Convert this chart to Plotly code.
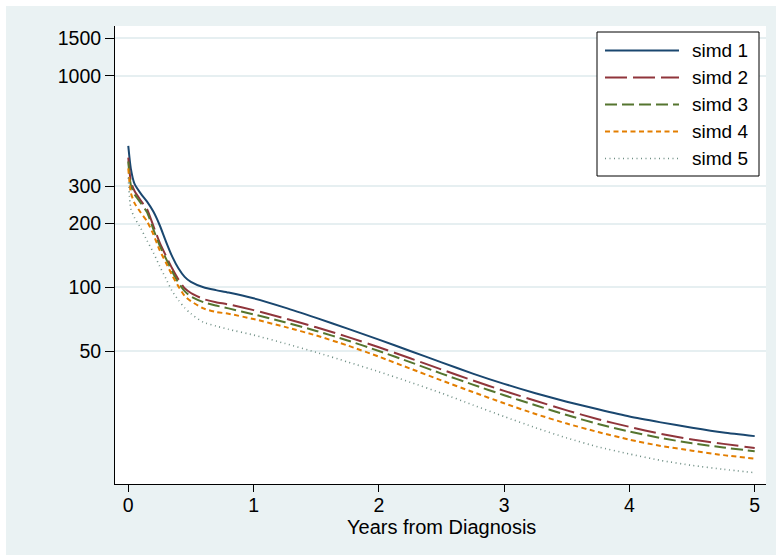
import plotly.graph_objects as go

# Years from diagnosis at which the curves are evaluated
years = [0, 0.02, 0.05, 0.1, 0.15, 0.2, 0.25, 0.3, 0.35, 0.4, 0.45, 0.5, 0.6, 0.7, 0.8,
         1.0, 1.25, 1.5, 1.75, 2.0, 2.25, 2.5, 2.75, 3.0, 3.25, 3.5, 3.75, 4.0, 4.25,
         4.5, 4.75, 5.0]

simd1 = [466, 365, 308, 277, 254, 228, 197, 165, 140, 123, 112, 106, 100, 97, 94.5,
         88.7, 80.2, 71.7, 63.8, 56.6, 50.0, 44.2, 39.1, 34.95, 31.6, 28.8, 26.5, 24.5,
         23.0, 21.7, 20.6, 19.8]
simd2 = [410, 318, 285, 257, 234, 195, 163, 141, 123, 109, 99, 94, 88, 85, 83,
         78.0, 71.3, 64.7, 58.3, 52.1, 46.2, 40.9, 36.3, 32.4, 29.1, 26.2, 23.8, 21.9,
         20.3, 19.1, 18.2, 17.4]
simd3 = [393, 305, 275, 250, 226, 188, 158, 137, 119, 105, 96, 90.5, 85, 82, 79.5,
         74.5, 68.4, 62.2, 56.1, 50.0, 44.3, 39.1, 34.7, 30.9, 27.7, 24.9, 22.6, 20.8,
         19.4, 18.3, 17.5, 16.8]
simd4 = [365, 280, 250, 225, 205, 178, 150, 131, 114, 101, 91, 86, 79.5, 76.5, 75,
         70.8, 65.0, 59.2, 53.1, 47.0, 41.3, 36.3, 32.0, 28.3, 25.2, 22.7, 20.7, 19.05,
         17.8, 16.9, 16.1, 15.5]
simd5 = [330, 236, 213, 190, 166, 146, 126, 110, 96, 87, 80, 75, 68.3, 65.6, 63.3,
         59.5, 54.3, 49.3, 44.4, 39.9, 35.6, 31.6, 27.8, 24.5, 21.7, 19.4, 17.6, 16.3,
         15.2, 14.4, 13.8, 13.3]

series_names = ["simd 1", "simd 2", "simd 3", "simd 4", "simd 5"]
y_ticks = [50, 100, 200, 300, 1000, 1500]
x_ticks = [0, 1, 2, 3, 4, 5]
x_title = "Years from Diagnosis"

colors = ["#1a476f", "#90353b", "#55752f", "#e37e00", "#6e8e84"]
dashes = ["solid", "22px,6px", "12px,5px", "5px,3.5px", "1px,3.5px"]
widths = [2, 2, 2, 2, 1.6]

W, H = 776, 555
L, R, T, B = 115, 10, 26, 71
BG = "#EAF2F3"
FONT = "Liberation Sans, Arial, sans-serif"

fig = go.Figure()
for name, vals, c, d, w in zip(series_names, [simd1, simd2, simd3, simd4, simd5],
                               colors, dashes, widths):
    fig.add_trace(go.Scatter(x=years, y=vals, mode="lines", name=name,
                             line=dict(color=c, dash=d, width=w, shape="spline",
                                       smoothing=0.6),
                             showlegend=False))

pw, ph = W - L - R, H - T - B


def px_x(p):
    return (p - L) / pw


def px_y(p):
    return (H - B - p) / ph


shapes = [
    # white page border around the graph region
    dict(type="rect", xref="paper", yref="paper", x0=px_x(0), x1=px_x(W),
         y0=px_y(6), y1=px_y(0), fillcolor="white", line_width=0, layer="below"),
    dict(type="rect", xref="paper", yref="paper", x0=px_x(0), x1=px_x(6),
         y0=px_y(H), y1=px_y(0), fillcolor="white", line_width=0, layer="below"),
    # legend box
    dict(type="rect", xref="paper", yref="paper", x0=px_x(597), x1=px_x(759),
         y0=px_y(176), y1=px_y(32), fillcolor="white",
         line=dict(color="black", width=1), layer="above"),
]
annotations = [
    dict(xref="paper", yref="paper", x=px_x(441), y=px_y(527), text=x_title,
         showarrow=False, xanchor="center", yanchor="middle",
         font=dict(size=20, color="black", family=FONT)),
]
for i, (name, c, d, w) in enumerate(zip(series_names, colors, dashes, widths)):
    yy = px_y(50.5 + 27 * i)
    shapes.append(dict(type="line", xref="paper", yref="paper", x0=px_x(605),
                       x1=px_x(679), y0=yy, y1=yy,
                       line=dict(color=c, dash=d, width=w), layer="above"))
    annotations.append(dict(xref="paper", yref="paper", x=px_x(690), y=yy,
                            text=name, showarrow=False, xanchor="left",
                            yanchor="middle",
                            font=dict(size=19, color="black", family=FONT)))

fig.update_layout(
    width=W, height=H,
    margin=dict(l=L, r=R, t=T, b=B),
    paper_bgcolor=BG, plot_bgcolor="white",
    font=dict(family=FONT, size=19.5, color="black"),
    shapes=shapes, annotations=annotations,
    showlegend=False,
)
fig.update_xaxes(range=[-0.106, 5.09], tickvals=x_ticks, ticks="outside", ticklen=7,
                 ticklabelstandoff=-3,
                 tickcolor="black", showgrid=False, zeroline=False, showline=True,
                 linecolor="black", linewidth=1)
fig.update_yaxes(type="log", range=[1.0704, 3.235], tickvals=y_ticks,
                 ticktext=[str(v) for v in y_ticks], ticks="outside", ticklen=9,
                 tickcolor="black", showgrid=True, gridcolor="#E6EFF1", gridwidth=1.5,
                 zeroline=False, showline=True, linecolor="black", linewidth=1)

fig.write_html("out.html")
